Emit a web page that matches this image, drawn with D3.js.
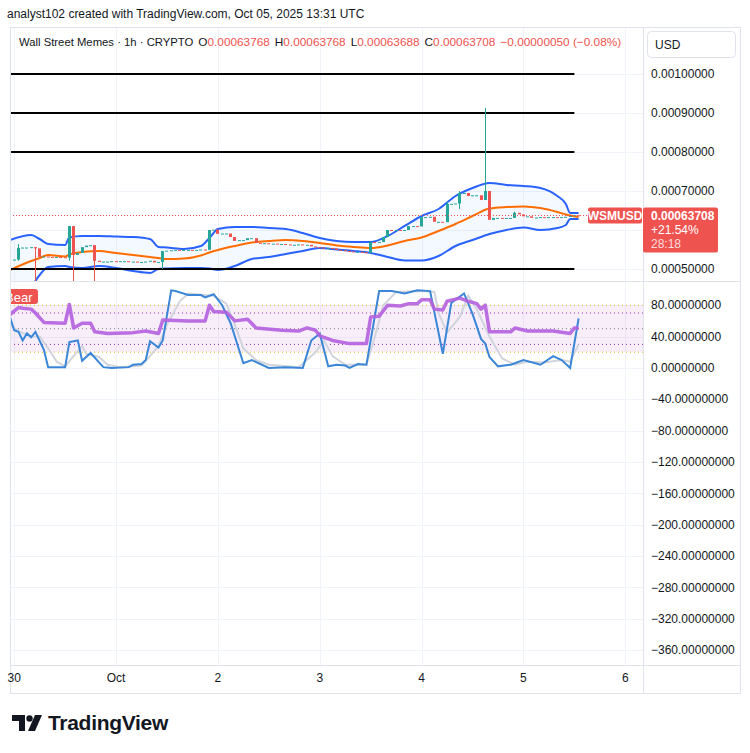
<!DOCTYPE html>
<html>
<head>
<meta charset="utf-8">
<script src="https://cdn.jsdelivr.net/npm/d3@7"></script>
<style>
  body { margin: 0; background: #fff; }
  svg { display: block; font-family: "Liberation Sans", Arial, sans-serif; }
</style>
</head>
<body>
<div id="chart"></div>
<script>
// hourly closes from Sep 30 00:00 UTC (index 0) to Oct 5 13:00 UTC (index 133)
const firstOpen = 0.000523;
const closes = [
  0.000524, 0.000554, 0.000555, 0.000555, 0.000556, 0.000553, 0.000531, 0.000532, 0.000531, 0.000530,
  0.000531, 0.000530, 0.000529, 0.000610, 0.000536, 0.000541, 0.000556, 0.000560, 0.000561, 0.000521,
  0.000518, 0.000519, 0.000519, 0.000520, 0.000519, 0.000520, 0.000520, 0.000518, 0.000519, 0.000517,
  0.000518, 0.000519, 0.000521, 0.000517, 0.000518, 0.000546, 0.000547, 0.000548, 0.000549, 0.000548,
  0.000549, 0.000549, 0.000548, 0.000549, 0.000550, 0.000549, 0.000600, 0.000601, 0.000590, 0.000591,
  0.000591, 0.000582, 0.000572, 0.000574, 0.000574, 0.000579, 0.000579, 0.000567, 0.000566, 0.000566,
  0.000565, 0.000565, 0.000564, 0.000564, 0.000563, 0.000562, 0.000562, 0.000563, 0.000561, 0.000562,
  0.000558, 0.000556, 0.000555, 0.000554, 0.000554, 0.000553, 0.000549, 0.000548, 0.000546, 0.000545,
  0.000544, 0.000544, 0.000543, 0.000541, 0.000569, 0.000568, 0.000569, 0.000582, 0.000600, 0.000599,
  0.000600, 0.000599, 0.000600, 0.000610, 0.000610, 0.000609, 0.000633, 0.000633, 0.000634, 0.000621,
  0.000621, 0.000620, 0.000667, 0.000667, 0.000668, 0.000695, 0.000695, 0.000687, 0.000689, 0.000689,
  0.000677, 0.000700, 0.000626, 0.000631, 0.000631, 0.000630, 0.000631, 0.000631, 0.000644, 0.000640,
  0.000635, 0.000635, 0.000631, 0.000632, 0.000633, 0.000632, 0.000633, 0.000633, 0.000632, 0.000633,
  0.000634, 0.000636, 0.00063768, 0.00063708
];
// [index, high, low] for candles with visible wicks
const wicks = [
  [1, 0.000564, 0.000521], [5, 0.000556, 0.000465], [13, 0.000610, 0.000521],
  [14, 0.000610, 0.000465], [19, 0.000561, 0.000465], [35, 0.000546, 0.000500],
  [102, 0.000672, 0.000621], [105, 0.000700, 0.000654], [111, 0.000913, 0.000677],
  [118, 0.000647, 0.000631]
];

// Bollinger bands
const bandIdx = [-1, 4, 6, 8, 12, 13, 16, 20, 24, 28, 32, 34, 36, 40, 44, 46, 48, 52, 56, 60,
  64, 68, 72, 76, 80, 84, 88, 92, 96, 100, 104, 108, 112, 116, 120, 124, 128, 130, 131, 133];
const bandUpper = [0.0005744, 0.0005872, 0.0005769, 0.0005641, 0.0005615, 0.0005808, 0.0005846, 0.0005846, 0.0005833, 0.0005821,
  0.0005769, 0.0005564, 0.0005551, 0.0005513, 0.0005590, 0.0005795, 0.0006026, 0.0006077, 0.0006077, 0.0006051,
  0.0006026, 0.0005923, 0.0005795, 0.0005718, 0.0005692, 0.0005692, 0.0005846, 0.0006103, 0.0006359, 0.0006538,
  0.0006872, 0.0007077, 0.0007205, 0.0007154, 0.0007128, 0.0007077, 0.0006872, 0.0006667, 0.0006436, 0.0006436];
const bandMid = [0.0004974, 0.0005205, 0.0005282, 0.0005359, 0.0005321, 0.0005372, 0.0005436, 0.0005462, 0.0005410, 0.0005359,
  0.0005308, 0.0005282, 0.0005256, 0.0005269, 0.0005346, 0.0005423, 0.0005487, 0.0005590, 0.0005679, 0.0005718,
  0.0005744, 0.0005718, 0.0005667, 0.0005603, 0.0005564, 0.0005538, 0.0005603, 0.0005718, 0.0005808, 0.0005974,
  0.0006154, 0.0006359, 0.0006551, 0.0006590, 0.0006603, 0.0006564, 0.0006462, 0.0006397, 0.0006372, 0.0006333];
const bandLower = [0.0004154, 0.0004538, 0.0004846, 0.0005051, 0.0005077, 0.0005051, 0.0005026, 0.0005077, 0.0005026, 0.0004949,
  0.0004897, 0.0005000, 0.0005013, 0.0005026, 0.0005026, 0.0005013, 0.0004974, 0.0005077, 0.0005256, 0.0005308,
  0.0005385, 0.0005462, 0.0005538, 0.0005500, 0.0005462, 0.0005410, 0.0005308, 0.0005218, 0.0005218, 0.0005333,
  0.0005590, 0.0005744, 0.0005897, 0.0006000, 0.0006064, 0.0006000, 0.0006051, 0.0006128, 0.0006282, 0.0006282];

// drawn horizontal levels
const levels = [0.001, 0.0009, 0.0008, 0.0005];
const levelEndIdx = 132;

// oscillator pane: [index, value]
const rsiPts = [[-1,68],[1,77],[2,76],[4,75],[5,70],[7,58],[12,57],[13,81],[14,51],[16,57],[18,57],[19,46],
  [22,44],[28,45],[31,47],[34,44],[35,61],[41,60],[45,60],[46,80],[47,72],[50,71],[52,60],[55,62],[57,51],
  [63,48],[67,47],[69,51],[71,48],[72,41],[75,35],[79,31],[83,31],[84,65],[86,66],[88,80],[91,79],[93,82],
  [95,82],[96,87],[98,87],[99,75],[101,74],[102,85],[105,89],[107,85],[109,82],[110,75],[111,80],[112,46],
  [117,46],[118,51],[121,47],[127,47],[131,44],[132,51],[133,51]];
const kPts = [[-1,65],[0,48],[1,46],[2,35],[3,44],[4,39],[5,46],[7,23],[8,1],[12,1],[13,33],[15,35],[16,9],
  [18,19],[21,1],[23,0],[27,1],[28,4],[30,5],[31,10],[32,34],[34,26],[35,35],[37,99],[38,98],[41,93],[44,93],
  [45,90],[47,94],[49,80],[51,57],[54,6],[56,10],[60,0],[64,1],[68,0],[70,35],[72,44],[74,2],[76,4],[78,3],
  [79,0],[81,5],[83,4],[86,98],[89,98],[92,95],[95,99],[98,98],[101,18],[103,83],[106,95],[108,69],[110,37],
  [111,31],[112,14],[114,2],[117,4],[120,10],[124,4],[127,15],[129,10],[131,0],[133,63]];
const dPts = [[-1,55],[1,47],[4,40],[6,40],[8,25],[10,8],[12,2],[14,15],[16,28],[17,18],[20,14],[22,4],[25,1],
  [30,3],[32,15],[34,28],[36,55],[39,85],[41,95],[47,92],[50,82],[52,55],[54,25],[57,10],[60,4],[67,1],[71,20],
  [73,35],[75,15],[78,4],[83,4],[85,40],[87,80],[90,97],[96,98],[99,97],[100,70],[102,45],[105,65],[107,92],
  [109,75],[112,40],[115,12],[118,4],[121,8],[125,7],[129,10],[131,8],[133,30]];
const oscLevels = [{v: 80, c: '#e6c31e'}, {v: 70, c: '#9c27b0'}, {v: 50, c: '#787b86'}, {v: 30, c: '#9c27b0'}, {v: 20, c: '#e6c31e'}];

const priceTicks = [0.001, 0.0009, 0.0008, 0.0007, 0.0006, 0.0005];
const oscTicks = [80, 40, 0, -40, -80, -120, -160, -200, -240, -280, -320, -360];

const W = 750, H = 753;
const plotL = 10, plotR = 643, axisR = 740;
const frameT = 27, priceB = 281, indT = 282, indB = 665, timeB = 693;
const red = '#ef5350', green = '#26a69a', ink = '#131722';

const svg = d3.select('#chart').append('svg').attr('width', W).attr('height', H);
svg.append('rect').attr('width', W).attr('height', H).attr('fill', '#fff');

const defs = svg.append('defs');
defs.append('clipPath').attr('id', 'clipPrice').append('rect')
  .attr('x', plotL).attr('y', frameT).attr('width', plotR - plotL).attr('height', priceB - frameT);
defs.append('clipPath').attr('id', 'clipInd').append('rect')
  .attr('x', plotL).attr('y', indT).attr('width', plotR - plotL).attr('height', indB - indT);

// scales
const t0 = Date.UTC(2025, 8, 30);
const hour = 3600e3;
const x = d3.scaleUtc().domain([new Date(t0), new Date(t0 + 6 * 24 * hour)]).range([14.2, 625.3]);
const xi = i => x(new Date(t0 + i * hour));
const y = d3.scaleLinear().domain([0.0004692, 0.0011179]).range([priceB, frameT + 1]);
const yo = d3.scaleLinear().domain([-379, 109.6]).range([indB, indT]);

const dayTicks = x.ticks(d3.utcDay.every(1));

// grid
const grid = svg.append('g').attr('stroke', '#f0f3fa').attr('stroke-width', 1);
dayTicks.forEach(t => {
  const gx = Math.round(x(t)) + 0.5;
  grid.append('line').attr('x1', gx).attr('x2', gx).attr('y1', frameT).attr('y2', indB);
});
priceTicks.forEach(p => {
  const gy = Math.round(y(p)) + 0.5;
  grid.append('line').attr('x1', plotL).attr('x2', plotR).attr('y1', gy).attr('y2', gy);
});
oscTicks.forEach(v => {
  const gy = Math.round(yo(v)) + 0.5;
  grid.append('line').attr('x1', plotL).attr('x2', plotR).attr('y1', gy).attr('y2', gy);
});

// ---- price pane ----
const pg = svg.append('g').attr('clip-path', 'url(#clipPrice)');

const band = bandIdx.map((i, k) => ({i, u: bandUpper[k], m: bandMid[k], l: bandLower[k]}));
pg.append('path').datum(band)
  .attr('fill', 'rgba(33,150,243,0.055)')
  .attr('d', d3.area().x(d => xi(d.i)).y0(d => y(d.l)).y1(d => y(d.u)).curve(d3.curveMonotoneX));
const bandLine = key => d3.line().x(d => xi(d.i)).y(d => y(d[key])).curve(d3.curveMonotoneX);
pg.append('path').datum(band).attr('fill', 'none').attr('stroke', '#2962ff').attr('stroke-width', 2).attr('d', bandLine('u'));
pg.append('path').datum(band).attr('fill', 'none').attr('stroke', '#2962ff').attr('stroke-width', 2).attr('d', bandLine('l'));
pg.append('path').datum(band).attr('fill', 'none').attr('stroke', '#ff6d00').attr('stroke-width', 2).attr('d', bandLine('m'));

// drawn levels
levels.forEach(p => {
  pg.append('line')
    .attr('x1', plotL).attr('x2', xi(levelEndIdx))
    .attr('y1', y(p)).attr('y2', y(p))
    .attr('stroke', '#000').attr('stroke-width', 2);
});

// candles
const wickMap = new Map(wicks.map(w => [w[0], w]));
const candles = closes.map((c, i) => {
  const o = i === 0 ? firstOpen : closes[i - 1];
  const w = wickMap.get(i);
  return {i, o, c, h: w ? w[1] : Math.max(o, c), l: w ? w[2] : Math.min(o, c)};
});
const cg = pg.append('g');
cg.selectAll('line').data(candles.filter(d => wickMap.has(d.i))).join('line')
  .attr('x1', d => Math.round(xi(d.i) - 1.5) + 1.5).attr('x2', d => Math.round(xi(d.i) - 1.5) + 1.5)
  .attr('y1', d => y(d.h)).attr('y2', d => y(d.l))
  .attr('stroke', d => d.c >= d.o ? green : red).attr('stroke-width', 1);
cg.selectAll('rect').data(candles).join('rect')
  .attr('x', d => Math.round(xi(d.i) - 1.5)).attr('width', 3)
  .attr('y', d => y(Math.max(d.o, d.c)))
  .attr('height', d => Math.max(1, y(Math.min(d.o, d.c)) - y(Math.max(d.o, d.c))))
  .attr('fill', d => d.c >= d.o ? green : red);

// last price line
const last = closes[closes.length - 1];
const ly = y(last);
svg.append('line').attr('x1', plotL).attr('x2', 588).attr('y1', ly).attr('y2', ly)
  .attr('stroke', red).attr('stroke-width', 1).attr('stroke-dasharray', '1,2');
svg.append('rect').attr('x', 588).attr('y', ly - 8).attr('width', 54).attr('height', 16).attr('rx', 2).attr('fill', red);
svg.append('text').attr('x', 615).attr('y', ly).attr('dy', '0.35em').attr('text-anchor', 'middle')
  .attr('fill', '#fff').attr('font-size', 12).attr('font-weight', 'bold').text('WSMUSD');

// ---- oscillator pane ----
const og = svg.append('g').attr('clip-path', 'url(#clipInd)');
og.append('rect').attr('x', plotL).attr('width', plotR - plotL)
  .attr('y', yo(80)).attr('height', yo(20) - yo(80)).attr('fill', 'rgba(156,39,176,0.08)');
oscLevels.forEach(l => {
  og.append('line').attr('x1', plotL).attr('x2', plotR).attr('y1', yo(l.v)).attr('y2', yo(l.v))
    .attr('stroke', l.c).attr('stroke-width', 1).attr('stroke-dasharray', '1,3');
});
const oscLine = d3.line().x(d => xi(d[0])).y(d => yo(d[1]));
og.append('path').datum(dPts).attr('fill', 'none').attr('stroke', '#d1d4dc').attr('stroke-width', 2).attr('d', oscLine);
og.append('path').datum(kPts).attr('fill', 'none').attr('stroke', '#3b86d6').attr('stroke-width', 2).attr('d', oscLine);
og.append('path').datum(rsiPts).attr('fill', 'none').attr('stroke', '#b45fde').attr('stroke-width', 3.5)
  .attr('stroke-opacity', 0.9).attr('stroke-linejoin', 'round').attr('d', oscLine);
og.append('rect').attr('x', 2).attr('y', 289).attr('width', 36).attr('height', 15).attr('rx', 3).attr('fill', red);
og.append('text').attr('x', 5).attr('y', 297).attr('dy', '0.35em').attr('fill', '#fff').attr('font-size', 13).text('Bear');

// ---- frame and separators ----
const fr = svg.append('g').attr('stroke', '#e0e3eb').attr('stroke-width', 1).attr('fill', 'none');
fr.append('rect').attr('x', plotL + 0.5).attr('y', frameT + 0.5).attr('width', axisR - plotL).attr('height', timeB - frameT);
fr.append('line').attr('x1', plotL).attr('x2', axisR).attr('y1', indT - 0.5).attr('y2', indT - 0.5);
fr.append('line').attr('x1', plotL).attr('x2', axisR).attr('y1', indB + 0.5).attr('y2', indB + 0.5);
fr.append('line').attr('x1', plotR + 0.5).attr('x2', plotR + 0.5).attr('y1', frameT).attr('y2', timeB);

// ---- axes ----
const fmt8 = d3.format('.8f');
const labelTop = ly - 8, labelBottom = ly + 37;
const ax = svg.append('g').attr('font-size', 12).attr('fill', ink);
// the price label box hides any tick label that falls under it
priceTicks.filter(p => y(p) < labelTop - 6 || y(p) > labelBottom + 6).forEach(p => {
  ax.append('text').attr('x', 651).attr('y', y(p)).attr('dy', '0.35em').text(fmt8(p));
});
oscTicks.forEach(v => {
  ax.append('text').attr('x', 651).attr('y', yo(v)).attr('dy', '0.35em').text(fmt8(v));
});
dayTicks.forEach(t => {
  const lab = t.getUTCDate() === 1 ? d3.utcFormat('%b')(t) : d3.utcFormat('%-d')(t);
  ax.append('text').attr('x', x(t)).attr('y', 678).attr('dy', '0.35em').attr('text-anchor', 'middle').text(lab);
});

// price label on the axis
svg.append('rect').attr('x', 643).attr('y', labelTop).attr('width', 75).attr('height', 45).attr('rx', 2).attr('fill', red);
const pl = svg.append('g').attr('font-size', 12).attr('fill', '#fff');
pl.append('text').attr('x', 651).attr('y', ly).attr('dy', '0.35em').attr('font-weight', 'bold').text(fmt8(last));
pl.append('text').attr('x', 651).attr('y', ly + 14).attr('dy', '0.35em').text('+21.54%');
pl.append('text').attr('x', 651).attr('y', ly + 28).attr('dy', '0.35em').attr('fill-opacity', 0.8).text('28:18');

// USD box
svg.append('rect').attr('x', 647.5).attr('y', 31.5).attr('width', 88).attr('height', 26).attr('rx', 4)
  .attr('fill', '#fff').attr('stroke', '#e0e3eb');
svg.append('text').attr('x', 655).attr('y', 45).attr('dy', '0.35em').attr('font-size', 12).attr('fill', ink).text('USD');

// ---- header ----
svg.append('text').attr('x', 7).attr('y', 14).attr('dy', '0.35em').attr('font-size', 12).attr('fill', ink)
  .text('analyst102 created with TradingView.com, Oct 05, 2025 13:31 UTC');
const legend = [
  {k: 'Wall Street Memes · 1h · CRYPTO', v: '', size: 11.3},
  {k: 'O', v: '0.00063768'},
  {k: 'H', v: '0.00063768'},
  {k: 'L', v: '0.00063688'},
  {k: 'C', v: '0.00063708'},
  {k: '', v: '−0.00000050 (−0.08%)'}
];
let lx = 19;
legend.forEach(d => {
  const t = svg.append('text').attr('x', lx).attr('y', 42).attr('dy', '0.35em').attr('font-size', d.size || 11.8);
  t.append('tspan').attr('fill', ink).text(d.k);
  t.append('tspan').attr('fill', red).text(d.v);
  lx += t.node().getComputedTextLength() + 5;
});

// ---- logo ----
const logo = svg.append('g').attr('fill', ink);
logo.append('path').attr('d', 'M12 715 H25 V731 H19 V721 H12 Z');
logo.append('circle').attr('cx', 29.5).attr('cy', 718.5).attr('r', 3.2);
logo.append('path').attr('d', 'M35 715 H42 L35 731 H28 Z');
logo.append('text').attr('x', 48).attr('y', 723).attr('dy', '0.35em').attr('font-size', 21)
  .attr('font-weight', 'bold').attr('letter-spacing', -0.3).text('TradingView');
</script>
</body>
</html>
